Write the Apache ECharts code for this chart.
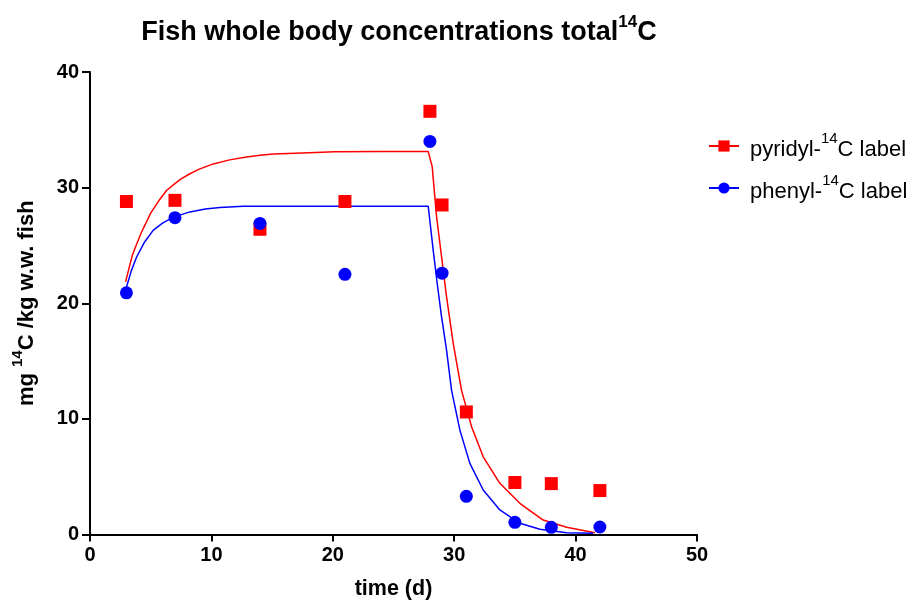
<!DOCTYPE html>
<html><head><meta charset="utf-8">
<script src="https://cdn.jsdelivr.net/npm/echarts@6/dist/echarts.min.js"></script>
<style>html,body{margin:0;padding:0;background:#fff}#c{width:916px;height:600px}</style>
</head><body><div id="c"></div>
<script>
// Measured data points
const pyridylX = [3, 7, 14, 21, 28, 29, 31, 35, 38, 42];
const pyridylY = [28.8, 28.9, 26.4, 28.8, 36.6, 28.5, 10.6, 4.5, 4.4, 3.8];
const phenylX = [3, 7, 14, 21, 28, 29, 31, 35, 38, 42];
const phenylY = [20.9, 27.4, 26.9, 22.5, 34.0, 22.6, 3.3, 1.05, 0.62, 0.65];
// Fitted curves
const pyridylFitX = [2.93, 3.5, 4.19, 5.0, 5.76, 6.3, 6.94, 7.5, 8.23, 9.0, 10.15, 11.5, 12.9, 14.0, 15.1, 17.5, 20.17, 24.0, 27.86, 28.0, 28.19, 28.55, 28.96, 29.37, 29.92, 30.6, 31.43, 32.39, 33.76, 35.41, 37.33, 39.26, 41.6];
const pyridylFitY = [21.85, 24.2, 26.03, 27.8, 29.0, 29.75, 30.3, 30.75, 31.2, 31.6, 32.05, 32.4, 32.65, 32.8, 32.9, 33.0, 33.1, 33.12, 33.12, 33.09, 31.8, 27.47, 24.01, 20.55, 16.53, 12.49, 9.32, 6.72, 4.43, 2.7, 1.25, 0.62, 0.16];
const phenylFitX = [2.93, 3.4, 3.84, 4.5, 5.2, 6.0, 6.94, 8.23, 9.5, 10.7, 12.62, 27.86, 28.0, 28.27, 28.6, 28.96, 29.37, 29.78, 30.47, 31.29, 32.39, 33.76, 35.41, 37.06, 39.26, 41.45];
const phenylFitY = [21.13, 22.8, 24.0, 25.3, 26.3, 26.95, 27.47, 27.9, 28.15, 28.28, 28.39, 28.39, 28.39, 24.59, 21.71, 18.82, 15.95, 12.49, 9.03, 6.15, 3.85, 2.12, 0.97, 0.45, 0.16, 0.1];
const xTicks = [0, 10, 20, 30, 40, 50];
const yTicks = [0, 10, 20, 30, 40];
const seriesNames = ['pyridyl-14C label', 'phenyl-14C label'];

const zip = (a, b) => a.map((v, i) => [v, b[i]]);
const RED = '#ff0000', BLUE = '#0000ff';
const FONT = 'Liberation Sans, Arial, sans-serif';
// rich text superscript: main tokens get tall line, sup aligned to top
const supText = s => '{t|' + s.replace('14', '}{sup|14}{t|') + '}';

const chart = echarts.init(document.getElementById('c'), null, { renderer: 'canvas' });
chart.setOption({
  animation: false,
  backgroundColor: '#fff',
  title: {
    text: supText('Fish whole body concentrations total14C'),
    left: 394, textAlign: 'center', top: 9,
    textStyle: {
      fontFamily: FONT, fontWeight: 'bold', fontSize: 27, color: '#000',
      rich: {
        t: { fontFamily: FONT, fontWeight: 'bold', fontSize: 27, color: '#000', lineHeight: 37 },
        sup: { fontFamily: FONT, fontWeight: 'bold', fontSize: 17, color: '#000', lineHeight: 17, verticalAlign: 'top' }
      }
    }
  },
  legend: {
    orient: 'vertical', left: 703, top: 126, itemGap: 12,
    itemWidth: 30, itemHeight: 14,
    data: seriesNames,
    formatter: n => '{g| }' + supText(n),
    textStyle: {
      fontFamily: FONT, fontSize: 22, color: '#000', padding: [8, 0, 0, 0],
      rich: {
        g: { width: 6, fontSize: 22, lineHeight: 38 },
        t: { fontFamily: FONT, fontSize: 22, color: '#000', lineHeight: 38 },
        sup: { fontFamily: FONT, fontSize: 15, color: '#000', lineHeight: 15, verticalAlign: 'top' }
      }
    }
  },
  grid: { left: 90, right: 219, top: 72, bottom: 65.5, containLabel: false, outerBoundsMode: 'none' },
  xAxis: {
    type: 'value', min: xTicks[0], max: xTicks[xTicks.length - 1], interval: 10,
    name: 'time (d)', nameLocation: 'middle', nameGap: 44,
    nameTextStyle: { fontFamily: FONT, fontWeight: 'bold', fontSize: 21.5, color: '#000' },
    axisLine: { lineStyle: { color: '#000', width: 2 } },
    axisTick: { show: true, inside: false, length: 7, lineStyle: { color: '#000', width: 2 } },
    axisLabel: { fontFamily: FONT, fontWeight: 'bold', fontSize: 20, color: '#000', margin: 11 },
    splitLine: { show: false }
  },
  yAxis: {
    type: 'value', min: yTicks[0], max: yTicks[yTicks.length - 1], interval: 10,
    name: supText('mg 14C /kg w.w. fish'), nameLocation: 'middle', nameGap: 46, nameRotate: 90,
    nameTextStyle: {
      fontFamily: FONT, fontWeight: 'bold', fontSize: 22, color: '#000',
      rich: {
        t: { fontFamily: FONT, fontWeight: 'bold', fontSize: 22, color: '#000', lineHeight: 34 },
        sup: { fontFamily: FONT, fontWeight: 'bold', fontSize: 15, color: '#000', lineHeight: 15, verticalAlign: 'top' }
      }
    },
    axisLine: { show: true, lineStyle: { color: '#000', width: 2 } },
    axisTick: { show: true, inside: false, length: 8, lineStyle: { color: '#000', width: 2 } },
    axisLabel: { fontFamily: FONT, fontWeight: 'bold', fontSize: 20, color: '#000', margin: 11 },
    splitLine: { show: false }
  },
  series: [
    {
      name: seriesNames[0], type: 'line', data: zip(pyridylFitX, pyridylFitY),
      symbol: 'rect', symbolSize: 12, showSymbol: false, smooth: false,
      lineStyle: { color: RED, width: 1.5 }, itemStyle: { color: RED }, z: 2
    },
    {
      name: seriesNames[1], type: 'line', data: zip(phenylFitX, phenylFitY),
      symbol: 'circle', symbolSize: 13, showSymbol: false, smooth: false,
      lineStyle: { color: BLUE, width: 1.5 }, itemStyle: { color: BLUE }, z: 2
    },
    {
      name: 'pyridyl points', type: 'scatter', data: zip(pyridylX, pyridylY),
      symbol: 'rect', symbolSize: 13, itemStyle: { color: RED, opacity: 1 }, z: 3
    },
    {
      name: 'phenyl points', type: 'scatter', data: zip(phenylX, phenylY),
      symbol: 'circle', symbolSize: 13, itemStyle: { color: BLUE, opacity: 1 }, z: 4
    }
  ]
});
</script></body></html>
